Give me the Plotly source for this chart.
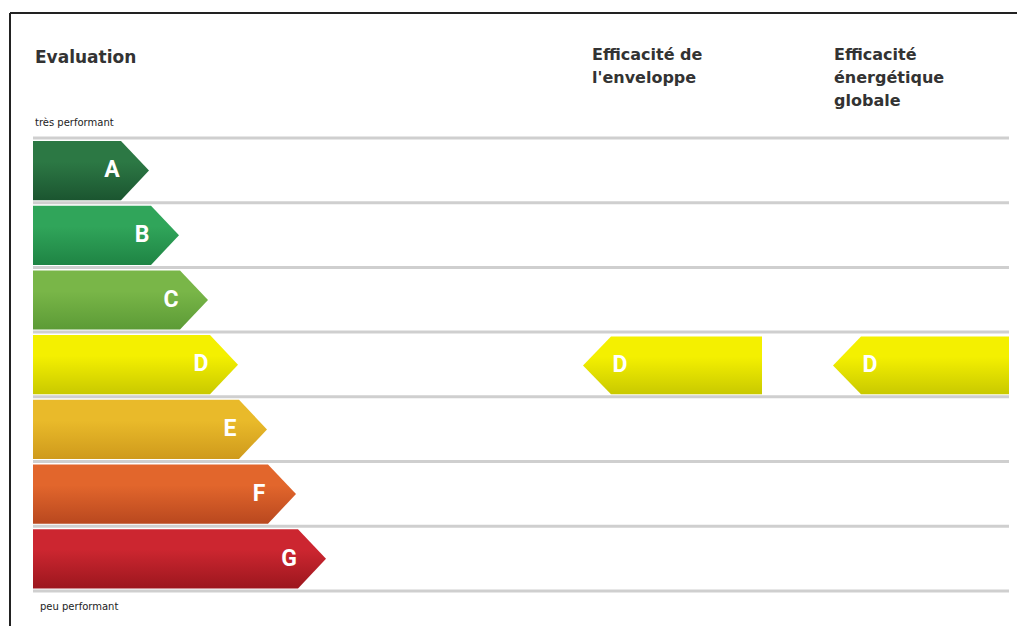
import plotly.graph_objects as go

# ---- data ----
classes = ["A", "B", "C", "D", "E", "F", "G"]
bar_lengths = [88, 118, 147, 177, 206, 235, 265]          # body length of each class arrow
top_colors = ["#2c7844", "#30a55a", "#79b648", "#f4f000", "#e9ba2a", "#e2662c", "#cc2630"]
bottom_colors = ["#1b5530", "#1f8444", "#5c9b36", "#c9c900", "#cf9a1c", "#b9481f", "#9c171e"]
envelope_class = "D"
global_class = "D"
header_eval = "Evaluation"
header_env = ["Efficacité de", "l'enveloppe"]
header_glob = ["Efficacité", "énergétique", "globale"]
label_top = "très performant"
label_bottom = "peu performant"

# ---- layout constants (pixel-like coordinates) ----
W, H = 1025, 626
OFF = 8  # page body margin compensation
x0 = 33
tip = 28
row0 = 138.0
row_h = 64.7
pad = 3.0
env_tip_x, env_end_x = 583, 762
glob_tip_x, glob_end_x = 833, 1009

fig = go.Figure()

def row_bounds(i):
    top = row0 + i * row_h + pad
    bot = row0 + (i + 1) * row_h - pad + 0.5
    return top, bot

def grad(i):
    return dict(type="vertical",
                colorscale=[[0, bottom_colors[i]], [0.65, top_colors[i]], [1, top_colors[i]]])

lfont = dict(family="Roboto", size=23, color="white", weight="bold")

for i, c in enumerate(classes):
    top, bot = row_bounds(i)
    mid = (top + bot) / 2
    L = bar_lengths[i]
    xs = [x0, x0 + L, x0 + L + tip, x0 + L, x0, x0]
    ys = [top, top, mid, bot, bot, top]
    fig.add_trace(go.Scatter(
        x=xs, y=ys, mode="lines", fill="toself",
        line=dict(width=0, color=bottom_colors[i]),
        fillgradient=grad(i), hoverinfo="skip", showlegend=False))
    fig.add_trace(go.Scatter(
        x=[x0 + L - 9], y=[mid + 1], mode="text", text=[c], textfont=lfont,
        hoverinfo="skip", showlegend=False))

def left_arrow(cls, tip_x, end_x):
    i = classes.index(cls)
    top, bot = row_bounds(i)
    top += 1.5
    mid = (top + bot) / 2
    xs = [tip_x, tip_x + tip, end_x, end_x, tip_x + tip, tip_x]
    ys = [mid, top, top, bot, bot, mid]
    fig.add_trace(go.Scatter(
        x=xs, y=ys, mode="lines", fill="toself",
        line=dict(width=0, color=bottom_colors[i]),
        fillgradient=grad(i), hoverinfo="skip", showlegend=False))
    fig.add_trace(go.Scatter(
        x=[tip_x + 37], y=[mid + 1], mode="text", text=[cls], textfont=lfont,
        hoverinfo="skip", showlegend=False))

left_arrow(envelope_class, env_tip_x, env_end_x)
left_arrow(global_class, glob_tip_x, glob_end_x)

shapes = []
for k in range(len(classes) + 1):
    y = row0 + k * row_h
    shapes.append(dict(type="line", xref="x", yref="y", x0=x0, x1=glob_end_x, y0=y, y1=y,
                       line=dict(color="#cfcfcf", width=3), layer="below"))
shapes.append(dict(type="line", xref="x", yref="y", x0=10, x1=W + 20, y0=13, y1=13,
                   line=dict(color="#222222", width=2)))
shapes.append(dict(type="line", xref="x", yref="y", x0=10, x1=10, y0=13, y1=H + 20,
                   line=dict(color="#222222", width=2)))

ann = []
hfont = dict(family="DejaVu Sans", size=16, color="#333333", weight="bold")
ann.append(dict(x=x0, y=57, text=header_eval, showarrow=False, xanchor="left", yanchor="middle",
                font=dict(family="DejaVu Sans", size=17, color="#333333", weight="bold")))
for j, t in enumerate(header_env):
    ann.append(dict(x=590, y=54 + j * 23, text=t, showarrow=False, xanchor="left", yanchor="middle", font=hfont))
for j, t in enumerate(header_glob):
    ann.append(dict(x=832, y=54 + j * 23, text=t, showarrow=False, xanchor="left", yanchor="middle", font=hfont))
sfont = dict(family="DejaVu Sans", size=10, color="#222222")
ann.append(dict(x=x0, y=122, text=label_top, showarrow=False, xanchor="left", yanchor="middle", font=sfont))
ann.append(dict(x=38, y=606, text=label_bottom, showarrow=False, xanchor="left", yanchor="middle", font=sfont))

fig.update_layout(
    width=W, height=H, margin=dict(l=0, r=0, t=0, b=0),
    paper_bgcolor="white", plot_bgcolor="white",
    xaxis=dict(range=[OFF, W + OFF], visible=False, fixedrange=True),
    yaxis=dict(range=[H + OFF, OFF], visible=False, fixedrange=True),
    shapes=shapes, annotations=ann, showlegend=False,
)

fig.write_html("out.html")
